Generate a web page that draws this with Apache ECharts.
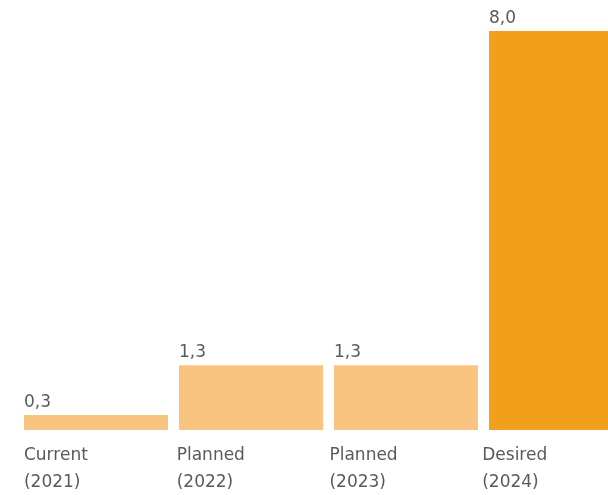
<!DOCTYPE html>
<html lang="en">
<head>
  <meta charset="UTF-8">
  <title>Bars</title>
  <style>
    html, body { margin: 0; padding: 0; background: #fff; }
    #chart { width: 608px; height: 495px; }
  </style>
</head>
<body>
  <div id="chart"></div>
  <script src="https://cdn.jsdelivr.net/npm/echarts@6/dist/echarts.min.js"></script>
  <script>
    var categories = ['Current\n(2021)', 'Planned\n(2022)', 'Planned\n(2023)', 'Desired\n(2024)']
    var values = [0.3, 1.3, 1.3, 8.0]
    var barColors = ['#f9c47f', '#f9c47f', '#f9c47f', '#f29f1b']

    var myChart = echarts.init(document.getElementById('chart'))
    var option = {
      animation: false,
      textStyle: { fontFamily: 'DejaVu Sans' },
      grid: [
        { left: 18.5, top: 31, bottom: 65, width: 620, containLabel: false, outerBoundsMode: 'none' },
        // labels sit on a slightly tighter pitch than the bars
        { left: 19.6, top: 31, bottom: 65, width: 611, containLabel: false, outerBoundsMode: 'none' }
      ],
      xAxis: [{
        type: 'category',
        gridIndex: 0,
        data: categories,
        axisLine: { show: false },
        axisTick: { show: false },
        axisLabel: { show: false }
      }, {
        type: 'category',
        gridIndex: 1,
        data: categories,
        axisLine: { show: false },
        axisTick: { show: false },
        axisLabel: {
          interval: 0,
          hideOverlap: false,
          align: 'center',
          width: 144,
          overflow: 'none',
          margin: 12,
          // each line left-aligned inside a 144px box centred under the bar
          formatter: function (v) {
            return v.split('\n').map(function (s) { return '{a|' + s + '}' }).join('\n')
          },
          rich: {
            a: { align: 'left', fontSize: 17, lineHeight: 27, color: '#5a5a5a', fontFamily: 'DejaVu Sans' }
          }
        }
      }],
      yAxis: [
        { type: 'value', gridIndex: 0, min: 0, max: 8, show: false },
        { type: 'value', gridIndex: 1, min: 0, max: 8, show: false }
      ],
      series: [{
        type: 'bar',
        barWidth: 144,
        data: values.map(function (v, i) {
          return { value: v, itemStyle: { color: barColors[i] } }
        }),
        label: {
          show: true,
          position: [0, -4],
          verticalAlign: 'bottom',
          align: 'left',
          fontSize: 17,
          color: '#5a5a5a',
          formatter: function (p) { return p.value.toFixed(1).replace('.', ',') }
        }
      }]
    }
    myChart.setOption(option)
  </script>
</body>
</html>
